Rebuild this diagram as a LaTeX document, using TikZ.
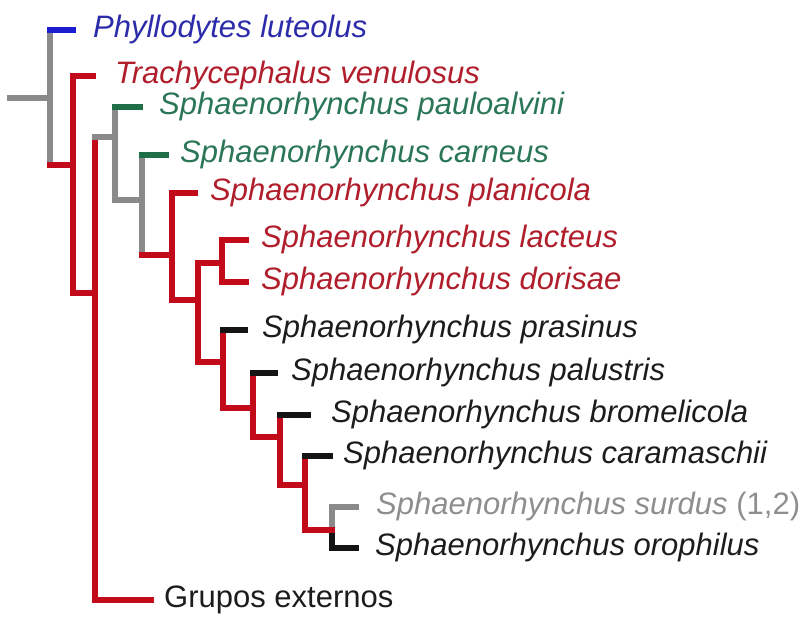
\documentclass[tikz,border=0pt]{standalone}
\usepackage{fontspec}
\setmainfont{Liberation Sans}
\definecolor{brred}{HTML}{C20A1A}
\definecolor{brgray}{HTML}{8A8A8A}
\definecolor{brgreen}{HTML}{1E6E48}
\definecolor{brblue}{HTML}{1C1CD0}
\definecolor{brblack}{HTML}{141414}
\definecolor{txred}{HTML}{B01E2C}
\definecolor{txgreen}{HTML}{2A7656}
\definecolor{txblue}{HTML}{2C2CAA}
\definecolor{txgray}{HTML}{8E8E8E}
\definecolor{txblack}{HTML}{1C1C1C}
\tikzset{
  branch/.style={line width=6pt, line cap=rect},
  taxon/.style={anchor=west, inner sep=0pt, text height=21pt, text depth=6.5pt,
    font=\fontsize{31}{34}\selectfont\itshape},
}
\begin{document}
\begin{tikzpicture}[x=1pt, y=-1pt]
  \useasboundingbox (0,0) rectangle (812,619);

  % Clades (x of the vertical bar, y of the stem)
  \coordinate (root) at (10,98);
  \coordinate (A) at (50,98);
  \coordinate (B) at (73,165);
  \coordinate (C) at (95,293);
  \coordinate (D) at (115,137);
  \coordinate (E) at (142,200);
  \coordinate (F) at (172,255);
  \coordinate (G) at (198,300);
  \coordinate (H) at (222,263);
  \coordinate (I) at (223,362);
  \coordinate (J) at (253,408);
  \coordinate (K) at (280,437);
  \coordinate (L) at (305,485);
  \coordinate (M) at (332,530);

  % Tip ends
  \coordinate (phy) at (73,30);
  \coordinate (tra) at (93,76);
  \coordinate (pau) at (140,107);
  \coordinate (crn) at (166,155);
  \coordinate (pla) at (195,193);
  \coordinate (lac) at (246,240);
  \coordinate (dor) at (246,282);
  \coordinate (pra) at (245,330);
  \coordinate (pal) at (275,373);
  \coordinate (bro) at (308,415);
  \coordinate (cmc) at (330,456);
  \coordinate (sur) at (356,507);
  \coordinate (oro) at (356,548);
  \coordinate (ext) at (151,600);

  % Labels
  \node[taxon, txblue] (lphy) at (93,30) {Phyllodytes luteolus};
  \node[taxon, txred] (ltra) at (115,76) {Trachycephalus venulosus};
  \node[taxon, txgreen] (lpau) at (159,107) {Sphaenorhynchus pauloalvini};
  \node[taxon, txgreen] (lcrn) at (180,155) {Sphaenorhynchus carneus};
  \node[taxon, txred] (lpla) at (210,193) {Sphaenorhynchus planicola};
  \node[taxon, txred] (llac) at (261,240) {Sphaenorhynchus lacteus};
  \node[taxon, txred] (ldor) at (261,282) {Sphaenorhynchus dorisae};
  \node[taxon, txblack] (lpra) at (262,330) {Sphaenorhynchus prasinus};
  \node[taxon, txblack] (lpal) at (291,373) {Sphaenorhynchus palustris};
  \node[taxon, txblack] (lbro) at (331,415) {Sphaenorhynchus bromelicola};
  \node[taxon, txblack] (lcmc) at (343,456) {Sphaenorhynchus caramaschii};
  \node[taxon, txgray] (lsur) at (376,507) {Sphaenorhynchus surdus {\upshape(1,2)}};
  \node[taxon, txblack] (loro) at (375,548) {Sphaenorhynchus orophilus};
  \node[taxon, txblack, font=\fontsize{31}{34}\selectfont] (lext) at (164,600) {Grupos externos};

  % Vertical bars
  \draw[branch, brgray] (phy -| A) -- (B -| A);
  \draw[branch, brred] (tra -| B) -- (C -| B);
  \draw[branch, brred] (D -| C) -- (ext -| C);
  \draw[branch, brgray] (pau -| D) -- (E -| D);
  \draw[branch, brgray] (crn -| E) -- (F -| E);
  \draw[branch, brred] (pla -| F) -- (G -| F);
  \draw[branch, brred] (H -| G) -- (I -| G);
  \draw[branch, brred] (lac -| H) -- (dor -| H);
  \draw[branch, brred] (pra -| I) -- (J -| I);
  \draw[branch, brred] (pal -| J) -- (K -| J);
  \draw[branch, brred] (bro -| K) -- (L -| K);
  \draw[branch, brred] (cmc -| L) -- (M -| L);
  \draw[branch, brgray] (sur -| M) -- (M);
  \draw[branch, brblack] (M) -- (oro -| M);

  % Stems
  \draw[branch, brgray] (root) -- (A);
  \draw[branch, brred] (B -| A) -- (B);
  \draw[branch, brred] (C -| B) -- (C);
  \draw[branch, brgray] (D -| C) -- (D);
  \draw[branch, brgray] (E -| D) -- (E);
  \draw[branch, brred] (F -| E) -- (F);
  \draw[branch, brred] (G -| F) -- (G);
  \draw[branch, brred] (H -| G) -- (H);
  \draw[branch, brred] (I -| G) -- (I);
  \draw[branch, brred] (J -| I) -- (J);
  \draw[branch, brred] (K -| J) -- (K);
  \draw[branch, brred] (L -| K) -- (L);
  \draw[branch, brred] (M -| L) -- (M);

  % Tips
  \draw[branch, brblue] (phy -| A) -- (phy);
  \draw[branch, brred] (tra -| B) -- (tra);
  \draw[branch, brred] (ext -| C) -- (ext);
  \draw[branch, brgreen] (pau -| D) -- (pau);
  \draw[branch, brgreen] (crn -| E) -- (crn);
  \draw[branch, brred] (pla -| F) -- (pla);
  \draw[branch, brred] (lac -| H) -- (lac);
  \draw[branch, brred] (dor -| H) -- (dor);
  \draw[branch, brblack] (pra -| I) -- (pra);
  \draw[branch, brblack] (pal -| J) -- (pal);
  \draw[branch, brblack] (bro -| K) -- (bro);
  \draw[branch, brblack] (cmc -| L) -- (cmc);
  \draw[branch, brgray] (sur -| M) -- (sur);
  \draw[branch, brblack] (oro -| M) -- (oro);
\end{tikzpicture}
\end{document}
